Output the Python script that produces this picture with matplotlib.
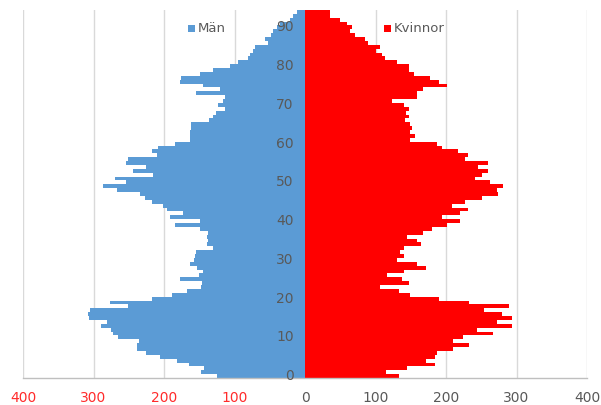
import numpy as np
import matplotlib
matplotlib.use("Agg")
import matplotlib.pyplot as plt
from matplotlib.patches import Rectangle

# Ages 0..94
ages = list(range(95))

men = [125, 147, 143, 165, 182, 206, 225, 238, 238, 236,
       265, 272, 275, 290, 281, 307, 308, 305, 251, 277,
       217, 189, 168, 147, 146, 177, 151, 145, 153, 163,
       158, 156, 154, 130, 139, 137, 139, 137, 149, 184,
       149, 192, 173, 196, 201, 217, 227, 234, 267, 287,
       254, 270, 215, 244, 225, 254, 251, 210, 217, 208,
       184, 163, 163, 163, 162, 161, 136, 130, 126, 114,
       123, 116, 114, 155, 121, 145, 178, 176, 149, 130,
       106, 95, 81, 78, 74, 71, 52, 57, 48, 45,
       40, 35, 21, 17, 12]

women = [133, 115, 144, 184, 172, 184, 187, 210, 233, 210,
         224, 266, 244, 294, 272, 293, 280, 254, 289, 232,
         190, 149, 133, 107, 147, 137, 116, 140, 171, 159,
         130, 140, 135, 140, 165, 159, 144, 167, 180, 201,
         220, 194, 220, 231, 208, 227, 251, 274, 272, 281,
         262, 241, 251, 260, 246, 260, 227, 231, 217, 195,
         187, 149, 156, 149, 152, 149, 142, 147, 143, 147,
         140, 123, 159, 159, 168, 201, 190, 178, 154, 147,
         147, 130, 113, 109, 100, 106, 90, 85, 71, 64,
         66, 59, 50, 36, 35]

x_ticks = [-400, -300, -200, -100, 0, 100, 200, 300, 400]
x_tick_labels = ["400", "300", "200", "100", "0", "100", "200", "300", "400"]
y_label_ages = [0, 10, 20, 30, 40, 50, 60, 70, 80, 90]
series_names = ["Män", "Kvinnor"]

men_color = "#5b9bd5"
women_color = "#ff0000"
gray_text = "#595959"
red_text = "#ff2b2b"

plt.rcParams['font.family'] = ['DejaVu Sans']

W, H = 601, 405
fig = plt.figure(figsize=(W / 100, H / 100), dpi=100)
ax = fig.add_axes([23 / W, 1 - 378 / H, 564 / W, 368 / H])

ax.barh(ages, [-v for v in men], height=1.0, color=men_color, linewidth=0, zorder=2)
ax.barh(ages, women, height=1.0, color=women_color, linewidth=0, zorder=2)

ax.set_xlim(-400, 400)
ax.set_ylim(-0.5, 94.5)
ax.set_xticks(x_ticks)
ax.set_xticklabels(x_tick_labels, fontsize=10)
for t, v in zip(ax.get_xticklabels(), x_ticks):
    t.set_color(red_text if v < 0 else gray_text)
ax.tick_params(axis='x', length=0, pad=9)
ax.set_yticks([])

ax.grid(axis='x', color='#d9d9d9', linewidth=1, zorder=0)
ax.set_axisbelow(True)
for s in ['top', 'left', 'right']:
    ax.spines[s].set_visible(False)
ax.spines['bottom'].set_color('#bfbfbf')
ax.spines['bottom'].set_linewidth(1)
ax.spines['bottom'].set_zorder(3)

for a in y_label_ages:
    ax.text(-16, a, str(a), ha='right', va='center', color=gray_text,
            fontsize=10, zorder=4)

# Legend
fig.add_artist(Rectangle((188 / W, 1 - 31.5 / H), 7 / W, 7 / H,
                         transform=fig.transFigure, color=men_color, lw=0))
fig.text(198 / W, 1 - 28 / H, series_names[0], ha='left', va='center',
         color=gray_text, fontsize=9.5)
fig.add_artist(Rectangle((384 / W, 1 - 31.5 / H), 7 / W, 7 / H,
                         transform=fig.transFigure, color=women_color, lw=0))
fig.text(394 / W, 1 - 28 / H, series_names[1], ha='left', va='center',
         color=gray_text, fontsize=9.5)

fig.savefig("out.png", dpi=100)
